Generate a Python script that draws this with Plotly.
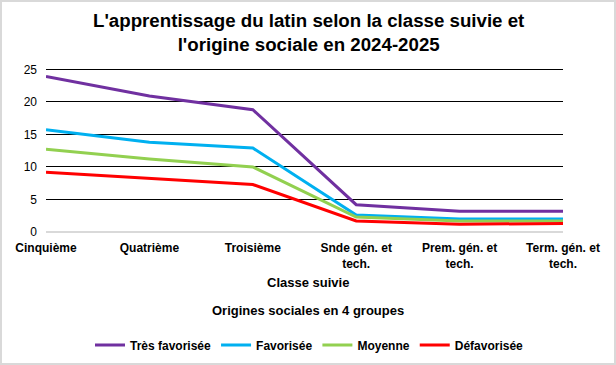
import plotly.graph_objects as go

categories = ["Cinquième", "Quatrième", "Troisième", "Snde gén. et<br>tech.",
              "Prem. gén. et<br>tech.", "Term. gén. et<br>tech."]
tres_favorisee = [23.9, 20.9, 18.8, 4.2, 3.2, 3.2]
favorisee = [15.7, 13.8, 12.9, 2.6, 2.0, 2.0]
moyenne = [12.7, 11.2, 10.0, 2.3, 1.7, 1.7]
defavorisee = [9.2, 8.3, 7.3, 1.7, 1.2, 1.3]
series_names = ["Très favorisée", "Favorisée", "Moyenne", "Défavorisée"]
series_values = [tres_favorisee, favorisee, moyenne, defavorisee]
colors = ["#7030A0", "#00B0F0", "#92D050", "#FF0000"]
y_ticks = [0, 5, 10, 15, 20, 25]

FONT = "Liberation Sans, Arial, sans-serif"
W, H = 616, 365
L, R, T, B = 46, 53, 68, 133
PW, PH = W - L - R, H - T - B


def py(pix):
    """pixel y (from top) -> paper y"""
    return (H - B - pix) / PH


def px(pix):
    """pixel x (from left) -> paper x"""
    return (pix - L) / PW


fig = go.Figure()
for name, vals, col in zip(series_names, series_values, colors):
    fig.add_trace(go.Scatter(x=categories, y=vals, name="<b>" + name + "</b>", mode="lines",
                             line=dict(color=col, width=3)))

fig.update_layout(
    width=W, height=H,
    margin=dict(l=L, r=R, t=T, b=B, autoexpand=False),
    paper_bgcolor="white", plot_bgcolor="white",
    font=dict(family=FONT, color="black", size=12),
    showlegend=True,
    legend=dict(orientation="h", x=px(90), xanchor="left", y=py(345), yanchor="middle",
                font=dict(size=12, family=FONT), itemwidth=30, traceorder="normal",
                bgcolor="rgba(0,0,0,0)"),
    shapes=[dict(type="rect", xref="paper", yref="paper",
                 x0=px(1), x1=px(W - 1), y0=py(H - 1), y1=py(1),
                 line=dict(color="#D9D9D9", width=2))],
)
fig.update_xaxes(type="category", range=[0, 5], showgrid=False, showline=False,
                 ticks="", tickfont=dict(size=12, family=FONT), ticklabelstandoff=7,
                 tickprefix="<b>", ticksuffix="</b>")
fig.update_yaxes(range=[0, 25.2], tickvals=y_ticks, showgrid=True, gridcolor="black", gridwidth=1,
                 zeroline=True, zerolinecolor="#D9D9D9", zerolinewidth=1.5, showline=False,
                 tickfont=dict(size=12, family=FONT), ticks="", ticklabelstandoff=8,
                 tickprefix="<b>", ticksuffix="</b>")

fig.add_annotation(text="<b>L'apprentissage du latin selon la classe suivie et<br>l'origine sociale en 2024-2025</b>",
                   xref="paper", yref="paper", x=px(308), y=py(32), showarrow=False,
                   yanchor="middle", xanchor="center", align="center",
                   font=dict(size=18.7, family=FONT, color="black"))
fig.add_annotation(text="<b>Classe suivie</b>", xref="paper", yref="paper",
                   x=px(308), y=py(282), showarrow=False, yanchor="middle",
                   font=dict(size=13, family=FONT))
fig.add_annotation(text="<b>Origines sociales en 4 groupes</b>", xref="paper", yref="paper",
                   x=px(308), y=py(310), showarrow=False, yanchor="middle",
                   font=dict(size=13, family=FONT))

fig.write_html("out.html", config={"displayModeBar": False},
               post_script="document.body.style.margin='0px';")
